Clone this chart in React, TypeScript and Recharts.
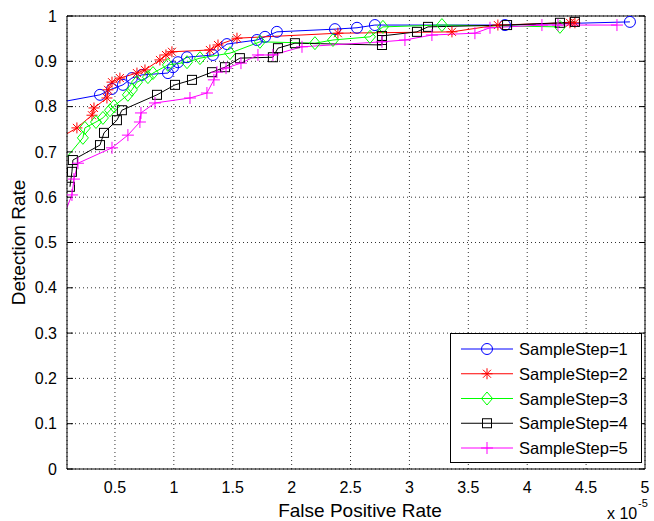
import React from 'react';
import { LineChart, Line, XAxis, YAxis, CartesianGrid, Legend } from 'recharts';

// false positive rate is in units of 1e-5
const xTicks = [0.5, 1, 1.5, 2, 2.5, 3, 3.5, 4, 4.5, 5];
const yTicks = [0, 0.1, 0.2, 0.3, 0.4, 0.5, 0.6, 0.7, 0.8, 0.9, 1];
const xMin = 0.093;
const xMax = 5;

const step1Fpr = [0, 0.373, 0.475, 0.568, 0.644, 0.729, 0.95, 0.993, 1.035, 1.112, 1.332, 1.451, 1.705, 1.774, 1.875, 2.368, 2.555, 2.707, 3.811, 4.872];
const step1Det = [0.808, 0.826, 0.839, 0.848, 0.863, 0.87, 0.874, 0.887, 0.898, 0.909, 0.914, 0.938, 0.947, 0.954, 0.965, 0.971, 0.974, 0.98, 0.98, 0.987];

const step2Fpr = [0, 0.177, 0.305, 0.322, 0.432, 0.441, 0.475, 0.542, 0.687, 0.755, 0.882, 0.933, 0.984, 1.306, 1.375, 1.536, 2.393, 3.361, 3.751, 4.363, 4.405];
const step2Det = [0.726, 0.753, 0.781, 0.797, 0.819, 0.837, 0.854, 0.863, 0.874, 0.881, 0.903, 0.914, 0.921, 0.925, 0.936, 0.951, 0.962, 0.965, 0.98, 0.985, 0.985];

const step3Fpr = [0, 0.228, 0.245, 0.339, 0.398, 0.458, 0.492, 0.61, 0.644, 0.687, 0.78, 0.823, 0.95, 1.112, 1.222, 1.477, 1.731, 2.198, 2.351, 2.665, 2.775, 3.276, 4.278];
const step3Det = [0.66, 0.731, 0.753, 0.766, 0.775, 0.792, 0.801, 0.826, 0.837, 0.854, 0.865, 0.874, 0.892, 0.898, 0.907, 0.918, 0.943, 0.94, 0.947, 0.954, 0.976, 0.98, 0.976];

const step4Fpr = [0.118, 0.135, 0.143, 0.373, 0.407, 0.517, 0.559, 0.857, 1.01, 1.154, 1.324, 1.434, 1.561, 1.841, 1.884, 2.028, 2.767, 2.767, 2.767, 3.064, 3.158, 3.829, 4.278, 4.405];
const step4Det = [0.623, 0.656, 0.682, 0.715, 0.742, 0.77, 0.792, 0.826, 0.848, 0.859, 0.876, 0.887, 0.907, 0.909, 0.929, 0.94, 0.936, 0.947, 0.956, 0.965, 0.976, 0.98, 0.985, 0.987];

const step5Fpr = [0.054, 0.135, 0.152, 0.186, 0.475, 0.61, 0.712, 0.721, 0.84, 1.137, 1.281, 1.34, 1.366, 1.443, 1.57, 1.714, 1.841, 2.088, 2.767, 2.962, 3.191, 3.556, 3.684, 4.125, 4.261, 4.762];
const step5Det = [0.552, 0.605, 0.64, 0.675, 0.709, 0.737, 0.766, 0.786, 0.808, 0.819, 0.83, 0.859, 0.876, 0.885, 0.896, 0.914, 0.914, 0.932, 0.943, 0.947, 0.958, 0.962, 0.974, 0.98, 0.98, 0.98];

const toPoints = (xs: number[], ys: number[]) => xs.map((x, i) => ({ x, y: ys[i] }));

const series = [
    { name: 'SampleStep=1', color: '#0000ff', shape: 'circle', data: toPoints(step1Fpr, step1Det) },
    { name: 'SampleStep=2', color: '#ff0000', shape: 'star', data: toPoints(step2Fpr, step2Det) },
    { name: 'SampleStep=3', color: '#00ff00', shape: 'diamond', data: toPoints(step3Fpr, step3Det) },
    { name: 'SampleStep=4', color: '#000000', shape: 'square', data: toPoints(step4Fpr, step4Det) },
    { name: 'SampleStep=5', color: '#ff00ff', shape: 'plus', data: toPoints(step5Fpr, step5Det) },
];

const font = '"Liberation Sans", Arial, Helvetica, sans-serif';

function Marker({ shape, color, cx, cy }: { shape: string; color: string; cx: number; cy: number }) {
    const s = { fill: 'none', stroke: color, strokeWidth: 1 };
    if (shape === 'circle') return <circle cx={cx} cy={cy} r={5.5} {...s} />;
    if (shape === 'square') return <rect x={cx - 4.5} y={cy - 4.5} width={9} height={9} {...s} />;
    if (shape === 'diamond')
        return <polygon points={`${cx},${cy - 6.5} ${cx + 5.5},${cy} ${cx},${cy + 6.5} ${cx - 5.5},${cy}`} {...s} />;
    if (shape === 'plus')
        return (
            <g {...s}>
                <line x1={cx - 6} y1={cy} x2={cx + 6} y2={cy} />
                <line x1={cx} y1={cy - 6} x2={cx} y2={cy + 6} />
            </g>
        );
    // star: plus and cross together
    return (
        <g {...s}>
            <line x1={cx - 5.5} y1={cy} x2={cx + 5.5} y2={cy} />
            <line x1={cx} y1={cy - 5.5} x2={cx} y2={cy + 5.5} />
            <line x1={cx - 4} y1={cy - 4} x2={cx + 4} y2={cy + 4} />
            <line x1={cx - 4} y1={cy + 4} x2={cx + 4} y2={cy - 4} />
        </g>
    );
}

const makeDot = (shape: string, color: string) => (props: any) => {
    const { cx, cy, index, payload } = props;
    if (payload == null || payload.x < xMin || cx == null) return <g key={`d-${shape}-${index}`} />;
    return (
        <g key={`d-${shape}-${index}`}>
            <Marker shape={shape} color={color} cx={cx} cy={cy} />
        </g>
    );
};

const noTick = () => <g />;

function LegendBox({ payload }: any) {
    const items = payload || [];
    return (
        <svg width={192} height={130} style={{ display: 'block' }}>
            <rect x={0.5} y={0.5} width={191} height={129} fill="#fff" stroke="#000" strokeWidth={1} />
            {items.map((item: any, i: number) => {
                const ser = series.find((s) => s.name === item.value) || series[i];
                const y = 16 + i * 24.75;
                return (
                    <g key={item.value}>
                        <line x1={11} y1={y} x2={63} y2={y} stroke={ser.color} strokeWidth={1} />
                        <Marker shape={ser.shape} color={ser.color} cx={37} cy={y} />
                        <text x={69} y={y + 6} fontSize={16.5} fontFamily={font} fill="#000">
                            {item.value}
                        </text>
                    </g>
                );
            })}
        </svg>
    );
}

export default function App() {
    const axisProps = {
        type: 'number' as const,
        domain: [xMin, xMax],
        ticks: xTicks,
        allowDataOverflow: true,
    };
    const yProps = {
        type: 'number' as const,
        domain: [0, 1],
        ticks: yTicks,
        allowDataOverflow: true,
    };
    return (
        <div style={{ position: 'absolute', left: 0, top: 0, width: 654, height: 521, background: '#fff' }}>
            <LineChart width={654} height={521} margin={{ top: 16, right: 9, bottom: 22, left: 17 }}>
                <CartesianGrid stroke="#333" strokeDasharray="1 3" strokeWidth={1} />
                <XAxis
                    dataKey="x"
                    {...axisProps}
                    height={30}
                    stroke="#000"
                    tickLine={false}
                    tickSize={0}
                    tickMargin={13}
                    tick={{ fill: '#000', fontSize: 16, fontFamily: font }}
                />
                <XAxis xAxisId="bt" {...axisProps} mirror orientation="bottom" axisLine={false} tickSize={6} stroke="#000" tick={noTick} />
                <XAxis xAxisId="tp" {...axisProps} mirror orientation="top" stroke="#000" tickSize={6} tick={noTick} />
                <YAxis
                    {...yProps}
                    width={50}
                    stroke="#000"
                    tickLine={false}
                    tickSize={0}
                    tickMargin={10}
                    tick={{ fill: '#000', fontSize: 16, fontFamily: font }}
                />
                <YAxis yAxisId="lf" {...yProps} mirror orientation="left" axisLine={false} tickSize={6} stroke="#000" tick={noTick} />
                <YAxis yAxisId="rt" {...yProps} mirror orientation="right" stroke="#000" tickSize={6} tick={noTick} />
                {series.map((s) => (
                    <Line
                        key={s.name}
                        name={s.name}
                        data={s.data}
                        dataKey="y"
                        type="linear"
                        stroke={s.color}
                        strokeWidth={1}
                        dot={makeDot(s.shape, s.color)}
                        activeDot={false}
                        isAnimationActive={false}
                    />
                ))}
                <Legend
                    layout="vertical"
                    align="center"
                    verticalAlign="middle"
                    content={<LegendBox />}
                    wrapperStyle={{ left: 450, top: 333, width: 192, height: 130 }}
                />
            </LineChart>
            <svg
                width={654}
                height={521}
                style={{ position: 'absolute', left: 0, top: 0, pointerEvents: 'none' }}
            >
                <text x={360} y={516.5} textAnchor="middle" fontSize={19} fontFamily={font} fill="#000">
                    False Positive Rate
                </text>
                <text
                    x={0}
                    y={0}
                    transform="translate(24.5,242.5) rotate(-90)"
                    textAnchor="middle"
                    fontSize={19}
                    fontFamily={font}
                    fill="#000"
                >
                    Detection Rate
                </text>
                <text x={607} y={519} fontSize={16} fontFamily={font} fill="#000">
                    x 10
                </text>
                <text x={638} y={507} fontSize={11} fontFamily={font} fill="#000">
                    -5
                </text>
            </svg>
        </div>
    );
}
